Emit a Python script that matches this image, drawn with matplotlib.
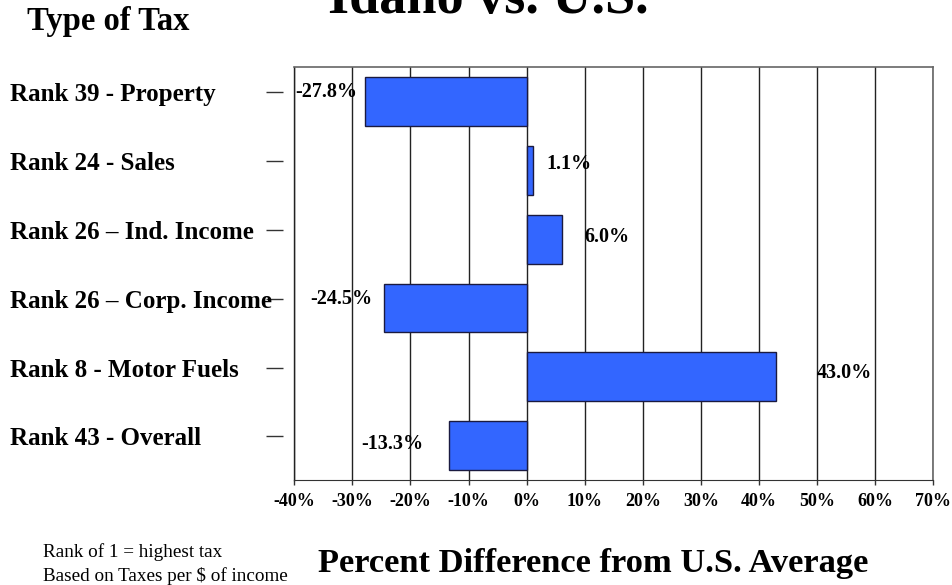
import numpy as np
import matplotlib
matplotlib.use('Agg')
from matplotlib import pyplot as plt
from matplotlib import transforms

categories = ['Rank 39 - Property', 'Rank 24 - Sales', 'Rank 26 \u2013 Ind. Income',
              'Rank 26 \u2013 Corp. Income', 'Rank 8 - Motor Fuels', 'Rank 43 - Overall']
pct_diff = [-27.8, 1.1, 6.0, -24.5, 43.0, -13.3]
value_labels = ['-27.8%', '1.1%', '6.0%', '-24.5%', '43.0%', '-13.3%']
x_ticks = list(range(-40, 71, 10))

# value labels were placed by hand on the original slide
label_x = [-39.9, 3.4, 10.0, -37.2, 49.9, -28.5]
label_dy = [-0.145, -0.094, -0.038, -0.126, -0.052, -0.02]

W, H = 953, 585
plt.rcParams['font.family'] = ['Liberation Serif', 'DejaVu Serif']

fig = plt.figure(figsize=(W / 100, H / 100), dpi=100)
ax = fig.add_axes([294.3 / W, 1 - 480 / H, (933.3 - 294.3) / W, (480 - 67.3) / H])

pos = np.arange(len(categories))
ax.barh(pos, pct_diff, height=0.71, color='#3366FF', edgecolor='#1a1a40',
        linewidth=1, zorder=3)

ax.set_xlim(-40, 70)
ax.set_ylim(len(categories) - 0.5, -0.5)
ax.set_xticks(x_ticks)
ax.set_xticklabels(['%d%%' % t for t in x_ticks], fontsize=13, fontweight='bold')
ax.grid(axis='x', color='#222222', linewidth=1, zorder=1)
ax.tick_params(axis='x', length=3.6, width=1, pad=6, color='#333333')

# dashes a bit off the plot, category names left aligned at the figure edge
ax.set_yticks(pos - 0.135)
ax.set_yticklabels([])
ax.spines['left'].set_position(('outward', 8.4))
ax.spines['left'].set_visible(False)
ax.tick_params(axis='y', length=12.2, width=1, color='#333333')
ax.axvline(-40, color='#222222', linewidth=1, clip_on=False, zorder=2)

name_trans = transforms.blended_transform_factory(fig.transFigure, ax.transData)
for i, name in enumerate(categories):
    ax.text(10 / W, pos[i] - 0.135, name, transform=name_trans, ha='left',
            va='center_baseline', fontsize=18, fontweight='bold')

for side in ['top', 'right']:
    ax.spines[side].set_color('#666666')
    ax.spines[side].set_linewidth(1.2)
ax.spines['bottom'].set_color('#333333')

for i in range(len(pct_diff)):
    ax.text(label_x[i], pos[i] + label_dy[i], value_labels[i], ha='left',
            va='center', fontsize=14.5, fontweight='bold', zorder=4)

fig.text(27 / W, 1 - 30 / H, 'Type of Tax', fontsize=23.5, fontweight='bold',
         va='baseline')
fig.text(488 / W, 1 - 13.3 / H, 'Idaho vs. U.S.', fontsize=39, fontweight='bold',
         ha='center', va='baseline')
fig.text(593 / W, 1 - 572 / H, 'Percent Difference from U.S. Average', fontsize=24.8,
         fontweight='bold', ha='center', va='baseline')
fig.text(42.7 / W, 1 - 557.3 / H, 'Rank of 1 = highest tax', fontsize=13.8,
         va='baseline')
fig.text(42.7 / W, 1 - 581 / H, r'Based on Taxes per \$ of income', fontsize=13.8,
         va='baseline')

fig.savefig('out.png', dpi=100)
